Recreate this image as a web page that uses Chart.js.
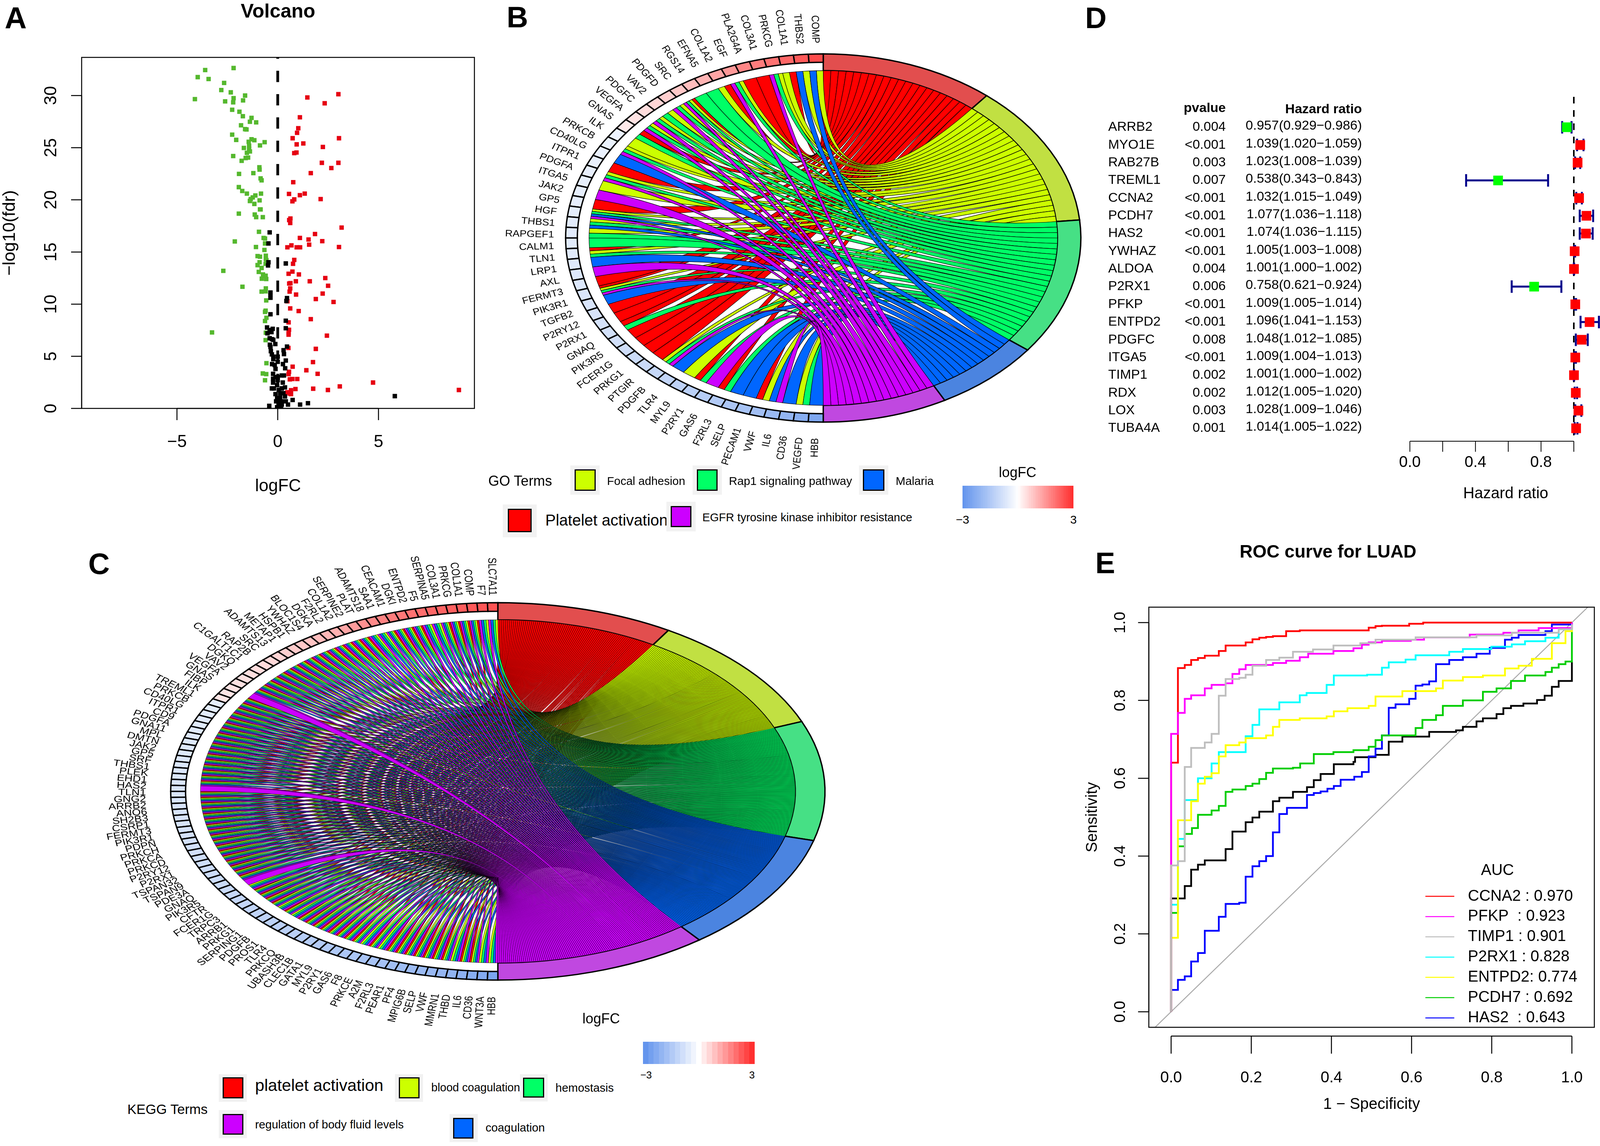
<!DOCTYPE html>
<html>
<head>
<meta charset="utf-8">
<title>Figure</title>
<script src="https://cdn.jsdelivr.net/npm/chart.js@4/dist/chart.umd.js"></script>
<style>
  html, body { margin: 0; background: #fff; }
  #page { position: relative; width: 4100px; height: 2935px; overflow: hidden; background: #fff; font-family: "Liberation Sans", Arial, sans-serif; color: #000; }
  canvas { position: absolute; }
  .t { position: absolute; white-space: pre; line-height: 1; }
  .bg { position: absolute; background: #f2f2f2; }
  .sw { position: absolute; box-sizing: border-box; border: 3px solid #000; }
</style>
</head>
<body>
<div id="page"></div>
<script>
// ============================================================
// Data
// ============================================================

// A: volcano
const upX = [3.01,1.47,2.33,1.10,1.02,.96,.74,3.04,1.27,.94,2.24,.93,.82,2.19,3.01,2.66,1.64,.77,.56,1.34,1.10,2.13,.82,.73,.63,.57,.62,3.17,1.85,1.10,1.53,2.21,1.56,.68,.48,.94,1.11,3.04,.82,.76,.73,.54,1.05,2.36,1.59,.90,.63,.57,2.50,.62,.59,.91,2.23,1.89,.48,2.77,.62,1.04,1.64,.54,.56,.54,.54,2.44,.53,1.89,1.75,.74,1.42,.56,.54,1.98,.97,.73,.60,4.73,3.08,.88,1.76,2.49,.66,.48,.59,.66,8.99];
const upY = [30.13,29.82,29.26,27.92,26.87,26.43,25.91,25.91,25.41,25.32,25.07,24.54,24.48,23.55,23.55,23.05,22.56,21.69,20.57,20.6,20.45,20.07,20.04,19.86,18.21,18.06,17.78,17.34,16.72,16.35,16.2,16.04,15.7,15.64,15.45,15.45,15.45,15.48,14.24,13.87,13.12,12.91,12.85,12.5,12.19,12.19,12.01,11.98,11.76,11.51,11.2,10.92,11.01,10.49,10.27,10.21,9.59,9.34,8.56,8.25,7.54,7.26,7.07,6.98,5.8,5.71,4.44,4.0,3.66,3.51,3.29,3.32,2.82,2.82,2.79,2.48,2.11,1.86,1.89,1.77,1.74,1.55,1.43,1.37,1.77];
const downX = [-2.19,-3.60,-3.97,-3.43,-2.66,-2.80,-2.33,-1.62,-4.11,-2.19,-1.72,-2.61,-2.21,-2.26,-1.90,-1.30,-1.73,-1.38,-1.07,-1.82,-1.62,-1.55,-2.26,-2.06,-.65,-1.30,-1.44,-1.16,-.88,-1.42,-1.68,-1.42,-1.38,-1.53,-2.21,-1.47,-1.59,-1.79,-.91,-.90,-1.21,-1.92,-.85,-.80,-1.93,-1.76,-1.53,-.83,-1.11,-1.24,-1.34,-1.38,-.90,-1.16,-.85,-.88,-1.93,-1.14,-1.07,-.74,-.93,-.70,-.63,-2.13,-.63,-1.08,-.66,-1.0,-.88,-.59,-.59,-.90,-.56,-1.0,-.60,-.80,-.94,-2.70,-.73,-.60,-.79,-.57,-1.75,-.59,-.80,-.60,-.57,-.60,-.63,-.56,-.63,-3.26,-.59,-.60,-.56,-.74,-.57,-.63];
const downY = [32.64,32.45,31.77,31.59,31.21,30.53,30.31,30.0,29.66,29.75,29.54,29.44,29.35,28.64,28.45,27.86,28.02,27.49,27.43,27.15,26.78,26.75,26.25,25.75,25.53,25.81,25.57,25.72,25.22,25.19,24.98,24.88,24.64,24.51,24.2,24.05,24.01,23.74,23.12,22.9,22.56,22.49,22.06,21.87,21.22,20.85,20.6,20.6,20.42,20.23,20.07,19.89,19.95,19.61,19.08,19.08,18.68,18.59,18.34,18.34,16.94,16.35,16.29,16.01,15.82,15.48,15.2,14.61,14.55,14.64,14.33,14.02,14.21,13.74,13.87,13.47,13.09,13.19,12.85,12.72,12.44,12.41,11.67,11.51,11.2,11.23,10.36,9.37,9.25,8.69,8.38,7.29,7.26,6.55,4.34,3.35,3.29,2.7];
const flatX = [-.40,-.46,-.46,-.48,.40,-.36,-.36,-.36,.46,.43,-.36,.40,-.53,.40,-.40,-.25,-.31,-.51,-.40,-.29,-.22,-.39,-.36,-.12,.46,-.34,.29,-.29,.31,-.22,0,-.22,.40,0,-.28,-.15,.26,-.11,.37,-.23,-.11,.20,.31,0,-.23,0,-.23,-.03,.25,-.29,-.19,.20,.36,.05,-.11,.12,.28,-.03,.12,.36,-.08,.05,.2,.4,5.81,.74,1.11,1.5,-.42,.05,.2,.51,-.03,.17];
const flatY = [16.88,15.82,14.02,13.71,13.9,11.11,10.86,10.61,10.58,10.3,9.03,8.41,7.76,7.69,7.51,7.63,7.32,7.2,6.73,6.64,6.58,6.11,5.9,6.17,5.93,5.49,5.58,5.18,5.21,4.96,4.96,4.72,4.59,4.47,4.25,4.16,4.25,3.79,3.85,3.32,3.01,3.16,3.16,3.01,2.85,2.7,2.48,2.23,2.48,1.92,1.92,1.92,2.02,1.77,1.37,1.46,1.46,.99,1.05,1.15,.68,.68,.68,.68,1.18,.81,.37,.5,.25,.31,.37,.37,.12,.12];
const volcanoXTicks = [-5, 0, 5];
const volcanoYTicks = [0, 5, 10, 15, 20, 25, 30];

// B: GO chord
const bGenes = ['COMP','THBS2','COL1A1','PRKCG','COL3A1','PLA2G4A','EGF','COL1A2','EFNA5','RGS14','SRC','PDGFD','VAV2','PDGFC','VEGFA','GNAS','ILK','PRKCB','CD40LG','ITPR1','PDGFA','ITGA5','JAK2','GP5','HGF','THBS1','RAPGEF1','CALM1','TLN1','LRP1','AXL','FERMT3','PIK3R1','TGFB2','P2RY12','P2RX1','GNAQ','PIK3R5','FCER1G','PRKG1','PTGIR','PDGFB','TLR4','MYL9','P2RY1','GAS6','F2RL3','SELP','PECAM1','VWF','IL6','CD36','VEGFD','HBB'];
// one letter per term: R L G B P (in the order of the five term colours)
const bGeneTerms = ['LB','LB','RL','LGP','R','R','LGP','RL','G','G','RLGP','LGP','LG','LGP','LGP','RG','L','LGP','B','R','LGP','L','P','R','LGBP','LGB','LG','G','RLG','B','P','R','RLGP','B','R','R','RG','R','R','R','R','LGP','B','L','RG','P','RG','B','B','RL','BP','B','LG','B'];
const bLogFC = [2.6,2.4,2.2,2.05,1.9,1.75,1.5,1.3,1.1,.95,.8,.7,.6,.5,.4,.3,-.35,-.38,-.4,-.42,-.44,-.46,-.48,-.5,-.52,-.54,-.56,-.58,-.6,-.62,-.65,-.68,-.71,-.74,-.78,-.82,-.86,-.9,-.95,-1,-1.05,-1.1,-1.18,-1.26,-1.34,-1.42,-1.5,-1.6,-1.7,-1.8,-1.95,-2.1,-2.3,-2.5];

// C: KEGG chord
const cGenes = ['SLC7A11','F7','COMP','COL1A1','PRKCG','COL3A1','SERPINA5','F5','ENTPD2','DGKI','CEACAM1','SAA1','ADAMTS18','PLAT','SERPINE2','COL1A2','F2RL2','DGKA','BLOC1S4','YWHAZ','HSPB1','METAP1','ADAMTS13','SRC','RAP2B','C1GALT1C1','DGKQ','VAV2','VEGFA','GNAS','FIBP','ILK','TREML1','PRKCB','CD40LG','ITPR1','CD9','PDGFA','GNA11','MPL','DMTN','JAK2','GP5','SRF','THBS1','PLEK','EHD1','HAS2','TLN1','GNG2','ARRB2','ANO6','SH2B3','CSRP1','FERMT3','PIK3R1','PDPN','PRKCH','PRKCA','PRKCD','P2RY12','P2RX1','TSPAN32','TSPAN9','PDE3A','GNAQ','PIK3R5','CFTR','FCER1G','TRPC3','ARRB1','PRKG1','SERPING1','PDGFB','PROS1','TLR4','PRKCQ','UBASH3B','CLEC1B','GATA1','MYL9','P2RY1','GAS6','F8','PRKCE','A2M','F2RL3','PEAR1','PF4','MPIG6B','SELP','VWF','MMRN1','THBD','IL6','CD36','WNT3A','HBB'];
const cNoPlatelet = ['SLC7A11','F7','SERPINA5','F5','ADAMTS18','PLAT','CFTR','SERPING1','PROS1','F8','A2M','THBD','WNT3A','HBB'];
const cPurpleOnly = ['FIBP','TLN1','PIK3R5'];
const cLogFC = [2.5,2.45,2.4,2.35,2.3,2.25,2.2,2.1,2.05,1.95,1.9,1.8,1.7,1.6,1.45,1.3,1.15,1.05,.95,.85,.8,.75,.7,.62,.55,.52,.5,.47,.44,.42,.4,.38,.36,-.5,-.52,-.55,-.57,-.58,-.6,-.62,-.63,-.65,-.66,-.68,-.69,-.7,-.71,-.72,-.73,-.74,-.75,-.76,-.77,-.78,-.8,-.82,-.84,-.86,-.88,-.9,-.92,-.94,-.96,-.98,-1,-1.03,-1.06,-1.09,-1.12,-1.15,-1.18,-1.21,-1.24,-1.27,-1.3,-1.33,-1.36,-1.39,-1.42,-1.46,-1.5,-1.54,-1.58,-1.62,-1.66,-1.7,-1.75,-1.8,-1.85,-1.9,-1.95,-2,-2.06,-2.12,-2.2,-2.3,-2.4,-2.55,-2.7];

// D: forest plot
const forestGenes = ['ARRB2','MYO1E','RAB27B','TREML1','CCNA2','PCDH7','HAS2','YWHAZ','ALDOA','P2RX1','PFKP','ENTPD2','PDGFC','ITGA5','TIMP1','RDX','LOX','TUBA4A'];
const forestP = ['0.004','<0.001','0.003','0.007','<0.001','<0.001','<0.001','<0.001','0.004','0.006','<0.001','<0.001','0.008','<0.001','0.002','0.002','0.003','0.001'];
const forestHR = [0.957,1.039,1.023,0.538,1.032,1.077,1.074,1.005,1.001,0.758,1.009,1.096,1.048,1.009,1.001,1.012,1.028,1.014];
const forestLow = [0.929,1.020,1.008,0.343,1.015,1.036,1.036,1.003,1.000,0.621,1.005,1.041,1.012,1.004,1.000,1.005,1.009,1.005];
const forestHigh = [0.986,1.059,1.039,0.843,1.049,1.118,1.115,1.008,1.002,0.924,1.014,1.153,1.085,1.013,1.002,1.020,1.046,1.022];
const forestXTicks = [0, 0.2, 0.4, 0.6, 0.8, 1];
const forestXLabelled = [0, 0.4, 0.8];

// E: ROC curves (corners of the steps)
const ccna2X = [0,0,.017,.034,.05,.067,.084,.119,.136,.186,.203,.22,.237,.254,.287,.321,.493,.51,.526,.594,.629,.749,1];
const ccna2Y = [0,.64,.883,.891,.904,.909,.915,.927,.941,.949,.957,.961,.963,.965,.978,.98,.987,.991,.992,.997,1,1,1];
const pfkpX = [0,0,.017,.034,.05,.084,.101,.136,.153,.17,.186,.254,.287,.321,.342,.405,.455,.476,.493,.526,.598,.631,.745,.829,.867,.917,1,1];
const pfkpY = [0,.714,.768,.804,.813,.831,.84,.844,.868,.88,.891,.896,.902,.911,.92,.927,.934,.943,.949,.953,.956,.962,.969,.974,.98,.986,.989,1];
const timp1X = [0,0,.017,.034,.05,.084,.101,.119,.136,.17,.186,.203,.237,.27,.304,.354,.405,.472,.51,.61,.762,.85,.967,1];
const timp1Y = [0,.376,.387,.629,.678,.692,.714,.812,.855,.858,.866,.889,.904,.91,.925,.931,.941,.947,.956,.962,.967,.974,.983,.996];
const p2rx1X = [0,0,.017,.034,.067,.101,.119,.186,.203,.22,.27,.321,.338,.388,.406,.489,.526,.543,.585,.61,.694,.728,.799,.85,.883,.934,.967,1];
const p2rx1Y = [0,.275,.444,.544,.6,.638,.667,.708,.737,.777,.795,.813,.819,.84,.864,.866,.884,.898,.905,.916,.925,.932,.938,.944,.952,.961,.983,.996];
const entpd2X = [0,0,.017,.05,.067,.084,.101,.119,.136,.17,.186,.237,.254,.27,.321,.388,.406,.44,.493,.51,.577,.661,.678,.728,.778,.833,.867,.9,.95,.984,1];
const entpd2Y = [0,.19,.492,.541,.586,.604,.613,.656,.685,.692,.703,.71,.732,.75,.754,.759,.772,.78,.786,.81,.824,.831,.851,.86,.864,.882,.889,.907,.947,.978,.987];
const pcdh7X = [0,0,.017,.034,.052,.067,.101,.119,.136,.153,.186,.203,.22,.237,.254,.304,.322,.356,.405,.455,.493,.51,.526,.61,.627,.661,.678,.728,.778,.812,.848,.883,.934,.95,.967,.984,1,1];
const pcdh7Y = [0,.254,.425,.457,.472,.506,.517,.529,.565,.571,.58,.586,.598,.614,.625,.627,.638,.662,.667,.672,.681,.698,.71,.729,.75,.762,.786,.8,.822,.831,.85,.864,.873,.884,.893,.9,.9,.98];
const unnamedX = [0,0,.034,.05,.067,.084,.136,.153,.186,.203,.22,.254,.27,.304,.339,.356,.373,.406,.455,.459,.51,.543,.577,.644,.711,.728,.762,.778,.812,.829,.848,.879,.913,.932,.95,.967,1,1];
const unnamedY = [0,.291,.323,.365,.378,.389,.418,.463,.487,.499,.514,.541,.55,.565,.577,.595,.611,.636,.642,.654,.66,.694,.707,.719,.723,.732,.746,.754,.765,.78,.786,.792,.801,.812,.835,.85,.86,.9];
const has2X = [0,0,.017,.034,.05,.067,.084,.119,.136,.17,.186,.203,.22,.237,.254,.27,.289,.339,.356,.373,.39,.406,.423,.457,.476,.493,.51,.526,.543,.56,.594,.61,.627,.644,.661,.694,.728,.762,.795,.833,.85,.867,.934,.95,1];
const has2Y = [0,.056,.082,.091,.129,.151,.208,.244,.277,.28,.347,.374,.387,.4,.461,.508,.524,.557,.562,.566,.573,.58,.596,.604,.616,.656,.676,.71,.781,.79,.804,.838,.841,.849,.893,.904,.911,.92,.935,.956,.961,.968,.978,.995,1];
const rocTicks = [0, 0.2, 0.4, 0.6, 0.8, 1];
const rocLegend = ['CCNA2 : 0.970','PFKP  : 0.923','TIMP1 : 0.901','P2RX1 : 0.828','ENTPD2: 0.774','PCDH7 : 0.692','HAS2  : 0.643'];

// ============================================================
// Shared helpers
// ============================================================
const FONT = '"Liberation Sans", Arial, sans-serif';
Chart.defaults.font.family = FONT;
Chart.defaults.color = '#000';
Chart.defaults.animation = false;

const page = document.getElementById('page');
const zip = (xs, ys) => xs.map((x, i) => ({ x, y: ys[i] }));
const minus = v => String(v).replace('-', '\u2212');

function newCanvas(left, top, w, h) {
  const c = document.createElement('canvas');
  c.width = w; c.height = h;
  c.style.left = left + 'px'; c.style.top = top + 'px';
  c.style.width = w + 'px'; c.style.height = h + 'px';
  page.appendChild(c);
  return c;
}

// text anchored on its vertical centre; align: l, c or r
function label(text, x, y, size, align = 'l', bold = false) {
  const d = document.createElement('div');
  d.className = 't';
  d.textContent = text;
  d.style.left = x + 'px'; d.style.top = y + 'px';
  d.style.fontSize = size + 'px';
  if (bold) d.style.fontWeight = 'bold';
  const tx = align === 'c' ? '-50%' : align === 'r' ? '-100%' : '0';
  d.style.transform = `translate(${tx}, -50%)`;
  page.appendChild(d);
}

function swatch(bg, inner, color) {
  const b = document.createElement('div');
  b.className = 'bg';
  b.style.cssText = `left:${bg[0]}px;top:${bg[1]}px;width:${bg[2] - bg[0]}px;height:${bg[3] - bg[1]}px`;
  page.appendChild(b);
  const s = document.createElement('div');
  s.className = 'sw';
  s.style.cssText = `left:${inner[0]}px;top:${inner[1]}px;width:${inner[2] - inner[0]}px;height:${inner[3] - inner[1]}px;background:${color}`;
  page.appendChild(s);
}

// axis fixed to a known size, ticks taken from a named list, no grid
function rAxis(tickValues, size, horizontal, extra) {
  return Object.assign({
    type: 'linear',
    grid: { display: false, drawTicks: false },
    border: { display: false },
    afterBuildTicks: s => { s.ticks = tickValues.map(value => ({ value })); },
    afterFit: s => {
      if (horizontal) s.height = size; else s.width = size;
      // tick padding must not shrink the plot area
      s.paddingLeft = s.paddingRight = s.paddingTop = s.paddingBottom = 0;
    },
  }, extra);
}

// R style axes: frame, axis line between the outer ticks, tick marks outwards
const rAxes = {
  id: 'rAxes',
  afterDraw(chart, args, o) {
    const { ctx, chartArea: a, scales: { x, y } } = chart;
    ctx.save();
    ctx.strokeStyle = '#000';
    ctx.lineWidth = o.width || 2.5;
    if (o.box) ctx.strokeRect(a.left, a.top, a.right - a.left, a.bottom - a.top);
    const xv = x.ticks.map(t => x.getPixelForValue(t.value));
    const y0 = a.bottom + (o.xGap || 0);
    ctx.beginPath();
    ctx.moveTo(xv[0], y0); ctx.lineTo(xv[xv.length - 1], y0);
    xv.forEach(p => { ctx.moveTo(p, y0); ctx.lineTo(p, y0 + o.xTick); });
    if (o.yTick) {
      const yv = y.ticks.map(t => y.getPixelForValue(t.value));
      ctx.moveTo(a.left, yv[0]); ctx.lineTo(a.left, yv[yv.length - 1]);
      yv.forEach(p => { ctx.moveTo(a.left, p); ctx.lineTo(a.left - o.yTick, p); });
    }
    ctx.stroke();
    ctx.restore();
  }
};

// ============================================================
// A: volcano
// ============================================================
new Chart(newCanvas(0, 0, 1230, 1300), {
  type: 'scatter',
  plugins: [rAxes],
  data: {
    datasets: [
      { data: zip(flatX, flatY), pointStyle: 'rect', pointRadius: 8, backgroundColor: '#000', borderWidth: 0 },
      { data: zip(upX, upY), pointStyle: 'rect', pointRadius: 8, backgroundColor: '#e60012', borderWidth: 0 },
      { data: zip(downX, downY), pointStyle: 'rect', pointRadius: 8, backgroundColor: '#55b82e', borderWidth: 0 },
      { data: [{ x: 0, y: 0 }, { x: 0, y: 33.66 }], showLine: true, pointRadius: 0, borderColor: '#000', borderWidth: 7, borderDash: [29, 30.7] },
    ]
  },
  options: {
    responsive: false, devicePixelRatio: 1,
    layout: { autoPadding: false, padding: { right: 15.5 } },
    plugins: {
      legend: { display: false }, tooltip: { enabled: false },
      title: { display: true, text: 'Volcano', fullSize: false, font: { size: 50, weight: 'bold', lineHeight: 1 }, padding: { top: 6, bottom: 91 } },
      rAxes: { box: true, xTick: 30, yTick: 27 },
    },
    scales: {
      x: rAxis(volcanoXTicks, 254, true, {
        min: -9.73, max: 9.76,
        ticks: { font: { size: 44, lineHeight: 1 }, padding: 65, autoSkip: false, maxRotation: 0, callback: minus },
        title: { display: true, text: 'logFC', font: { size: 44, lineHeight: 1 }, padding: { top: 0, bottom: 32 } },
      }),
      y: rAxis(volcanoYTicks, 209, false, {
        min: 0, max: 33.66,
        ticks: { font: { size: 44, lineHeight: 1 }, padding: 53, autoSkip: false, minRotation: 90, maxRotation: 90, crossAlign: 'center', callback: v => String(v) },
        title: { display: true, text: '\u2212log10(fdr)', font: { size: 45, lineHeight: 1 }, padding: { top: 3, bottom: 0 } },
      }),
    }
  }
});

// ============================================================
// B and C: chord diagrams (control point of each ribbon is the centre)
// ============================================================
const TERM_KEYS = 'RLGBP';
const ribbonColors = ['#ff0000', '#ccff00', '#00ff66', '#0066ff', '#cc00ff'];
const ringColors = ['#e24e4e', '#c1e042', '#46e085', '#4b84e0', '#c048e0'];

function fcColor(v) {
  const t = Math.min(Math.abs(v) / 3, 1);
  const end = v >= 0 ? [255, 48, 48] : [100, 149, 237];
  return `rgb(${end.map(c => Math.round(255 + (c - 255) * t)).join(',')})`;
}

const goChord = {
  id: 'goChord',
  beforeDatasetsDraw(chart, args, o) {
    const { ctx, scales: { x, y } } = chart;
    const cx = x.getPixelForValue(0), cy = y.getPixelForValue(0);
    const rx = x.getPixelForValue(1) - cx, ry = cy - y.getPixelForValue(1);
    const rad = Math.PI / 180;
    const pt = (r, th) => [cx + rx * r * Math.sin(th * rad), cy - ry * r * Math.cos(th * rad)];
    const arc = (r, a, b) => ctx.ellipse(cx, cy, rx * r, ry * r, 0, (a - 90) * rad, (b - 90) * rad, b < a);

    const nGene = o.genes.length;
    const geneW = 180 / nGene;
    const counts = TERM_KEYS.split('').map(k => o.terms.filter(s => s.includes(k)).length);
    const total = counts.reduce((a, b) => a + b, 0);
    const unit = 180 / total;

    ctx.save();
    ctx.strokeStyle = '#000';
    ctx.lineJoin = 'miter';

    // outer ring of the terms
    ctx.lineWidth = o.ringLine;
    let start = 0;
    const starts = counts.map((c, i) => {
      const s = start; start += c * unit;
      ctx.beginPath();
      arc(1, s, start); arc(1.1, start, s); ctx.closePath();
      ctx.fillStyle = ringColors[i];
      ctx.fill(); ctx.stroke();
      return s;
    });

    // gene boxes and labels
    o.genes.forEach((g, k) => {
      const a = -k * geneW, b = -(k + 1) * geneW;
      ctx.beginPath();
      arc(1.05, a, b); arc(1.1, b, a); ctx.closePath();
      ctx.fillStyle = fcColor(o.logFC[k]);
      ctx.fill(); ctx.stroke();

      const mid = (k + 0.5) * geneW;
      const [px, py] = [cx - rx * o.labelRx * Math.sin(mid * rad), cy - ry * o.labelRy * Math.cos(mid * rad) + o.labelDy];
      ctx.save();
      ctx.translate(px, py);
      ctx.scale(o.labelStretch, 1);
      ctx.rotate(Math.atan2(Math.cos(mid * rad), Math.sin(mid * rad)));
      ctx.font = `${o.labelSize}px ${FONT}`;
      ctx.fillStyle = '#000';
      ctx.textAlign = 'right';
      ctx.textBaseline = 'middle';
      ctx.fillText(g, 0, 0);
      ctx.restore();
    });

    // ribbons, term by term
    ctx.lineWidth = o.ribbonLine;
    TERM_KEYS.split('').forEach((key, t) => {
      let slot = 0;
      ctx.fillStyle = ribbonColors[t];
      o.terms.forEach((s, k) => {
        const j = s.indexOf(key);
        if (j < 0) return;
        const a1 = -(k + j / s.length) * geneW, a2 = -(k + (j + 1) / s.length) * geneW;
        const b1 = starts[t] + slot * unit, b2 = b1 + unit;
        slot++;
        const pa = pt(1, a1), pb = pt(1, b2);
        ctx.beginPath();
        ctx.moveTo(pa[0], pa[1]);
        arc(1, a1, a2);
        ctx.quadraticCurveTo(cx, cy, pb[0], pb[1]);
        arc(1, b2, b1);
        ctx.quadraticCurveTo(cx, cy, pa[0], pa[1]);
        ctx.closePath();
        ctx.fill(); ctx.stroke();
      });
    });
    ctx.restore();
  }
};

function chordChart(canvas, padding, cfg) {
  const w = 180 / cfg.genes.length;
  const anchors = cfg.genes.map((g, k) => {
    const th = (k + 0.5) * w * Math.PI / 180;
    return { x: -Math.sin(th), y: Math.cos(th) };
  });
  return new Chart(canvas, {
    type: 'scatter',
    plugins: [goChord],
    data: { datasets: [{ data: anchors, pointRadius: 0 }] },
    options: {
      responsive: false, devicePixelRatio: 1,
      layout: { padding },
      plugins: { legend: { display: false }, tooltip: { enabled: false }, goChord: cfg },
      scales: {
        x: { type: 'linear', display: false, min: -1.1, max: 1.1 },
        y: { type: 'linear', display: false, min: -1.1, max: 1.1 },
      }
    }
  });
}

chordChart(newCanvas(1250, 0, 1550, 1230), { left: 198, right: 33, top: 138, bottom: 149 }, {
  genes: bGenes, terms: bGeneTerms, logFC: bLogFC,
  ringLine: 3.5, ribbonLine: 1.2,
  labelSize: 24, labelStretch: 1.12, labelRx: 1.15, labelRy: 1.18, labelDy: 7,
});

const cGeneTerms = cGenes.map(g => cPurpleOnly.includes(g) ? 'P' : cNoPlatelet.includes(g) ? 'LGBP' : 'RLGBP');
chordChart(newCanvas(200, 1400, 1950, 1250), { left: 237, right: 38, top: 143.5, bottom: 140 }, {
  genes: cGenes, terms: cGeneTerms, logFC: cLogFC,
  ringLine: 3.5, ribbonLine: 0.8,
  labelSize: 23, labelStretch: 1.27, labelRx: 1.183, labelRy: 1.17, labelDy: 12,
});

// ============================================================
// D: forest plot
// ============================================================
const forestTable = {
  id: 'forestTable',
  afterDatasetsDraw(chart) {
    const { ctx, scales: { y } } = chart;
    ctx.save();
    ctx.fillStyle = '#000';
    ctx.textBaseline = 'middle';
    const row0 = y.getPixelForValue(1), rowH = y.getPixelForValue(2) - row0;
    ctx.font = `bold 34px ${FONT}`;
    ctx.textAlign = 'right';
    ctx.fillText('pvalue', 338, row0 - rowH * 1.06);
    ctx.fillText('Hazard ratio', 686.6, row0 - rowH * 0.99);
    ctx.font = `34px ${FONT}`;
    forestGenes.forEach((g, i) => {
      const py = y.getPixelForValue(i + 1);
      ctx.textAlign = 'left';
      ctx.fillText(g, 37, py);
      ctx.textAlign = 'right';
      ctx.fillText(forestP[i], 338, py);
      ctx.fillText(`${forestHR[i].toFixed(3)}(${forestLow[i].toFixed(3)}\u2212${forestHigh[i].toFixed(3)})`, 686.6, py - 3);
    });
    ctx.restore();
  },
  beforeDatasetDraw(chart, args) {
    if (args.index !== 0) return;
    const { ctx, scales: { x, y } } = chart;
    ctx.save();
    ctx.strokeStyle = '#00008b';
    ctx.lineWidth = 5;
    forestGenes.forEach((g, i) => {
      const py = y.getPixelForValue(i + 1);
      const lo = x.getPixelForValue(forestLow[i]), hi = x.getPixelForValue(forestHigh[i]);
      ctx.beginPath();
      ctx.moveTo(lo, py); ctx.lineTo(hi, py);
      ctx.moveTo(lo, py - 16); ctx.lineTo(lo, py + 16);
      ctx.moveTo(hi, py - 16); ctx.lineTo(hi, py + 16);
      ctx.stroke();
    });
    ctx.restore();
  }
};

new Chart(newCanvas(2800, 230, 1300, 1070), {
  type: 'scatter',
  plugins: [rAxes, forestTable],
  data: {
    datasets: [
      {
        data: forestHR.map((hr, i) => ({ x: hr, y: i + 1 })), pointStyle: 'rect', pointRadius: 17.5, borderWidth: 0,
        backgroundColor: forestHR.map(hr => hr > 1 ? '#ff0000' : '#00ff00'),
      },
      { data: [{ x: 1, y: -0.72 }, { x: 1, y: 18.73 }], showLine: true, pointRadius: 0, borderColor: '#000', borderWidth: 4, borderDash: [17, 17] },
    ]
  },
  options: {
    responsive: false, devicePixelRatio: 1,
    // markers near the right edge must not pull the plot area in
    layout: { autoPadding: false, padding: { left: 809.3, top: 18 } },
    plugins: {
      legend: { display: false }, tooltip: { enabled: false },
      rAxes: { xTick: 27, width: 2 },
    },
    scales: {
      x: rAxis(forestXTicks, 170, true, {
        min: 0, max: 1.1692,
        ticks: { font: { size: 40, lineHeight: 1 }, padding: 35, autoSkip: false, maxRotation: 0, callback: v => forestXLabelled.includes(v) ? v.toFixed(1) : '' },
        title: { display: true, text: 'Hazard ratio', font: { size: 40, lineHeight: 1 }, padding: { top: 0, bottom: 15 } },
      }),
      y: { type: 'linear', display: false, reverse: true, min: -0.72, max: 18.73 },
    }
  }
});

// ============================================================
// E: ROC curves
// ============================================================
const rocColors = ['#ff0000', '#ff00ff', '#bebebe', '#00ffff', '#ffff00', '#00cd00', '#0000ff'];

const rocKey = {
  id: 'rocKey',
  afterDatasetsDraw(chart) {
    const { ctx } = chart;
    ctx.save();
    ctx.fillStyle = '#000';
    ctx.font = `40px ${FONT}`;
    ctx.textBaseline = 'middle';
    ctx.textAlign = 'center';
    ctx.fillText('AUC', 1115.5, 849.5);
    ctx.textAlign = 'left';
    ctx.lineWidth = 2.5;
    rocLegend.forEach((text, i) => {
      const py = 915.5 + 51.9 * i;
      ctx.strokeStyle = rocColors[i];
      ctx.beginPath(); ctx.moveTo(931, py); ctx.lineTo(1005, py); ctx.stroke();
      ctx.fillText(text, 1039.8, py);
    });
    ctx.restore();
  }
};

const rocCurve = (xs, ys, color, order) => ({
  data: zip(xs, ys), showLine: true, stepped: true, pointRadius: 0,
  borderColor: color, borderWidth: 4.5, borderJoinStyle: 'miter', order,
});

new Chart(newCanvas(2718, 1380, 1382, 1500), {
  type: 'scatter',
  plugins: [rAxes, rocKey],
  data: {
    datasets: [
      rocCurve(ccna2X, ccna2Y, rocColors[0], 2),
      rocCurve(pfkpX, pfkpY, rocColors[1], 1),
      rocCurve(timp1X, timp1Y, rocColors[2], 0),
      rocCurve(p2rx1X, p2rx1Y, rocColors[3], 4),
      rocCurve(entpd2X, entpd2Y, rocColors[4], 3),
      rocCurve(pcdh7X, pcdh7Y, rocColors[5], 5),
      rocCurve(has2X, has2Y, rocColors[6], 6),
      rocCurve(unnamedX, unnamedY, '#000', 7),
      { data: [{ x: -0.06, y: -0.06 }, { x: 1.06, y: 1.06 }], showLine: true, pointRadius: 0, borderColor: '#a9a9a9', borderWidth: 2.5, order: 8 },
    ]
  },
  options: {
    responsive: false, devicePixelRatio: 1,
    layout: { autoPadding: false, padding: { right: 18.5 } },
    plugins: {
      legend: { display: false }, tooltip: { enabled: false },
      title: { display: true, text: 'ROC curve for LUAD', font: { size: 46, weight: 'bold', lineHeight: 1 }, padding: { top: 12, bottom: 117 } },
      rAxes: { box: true, xGap: 22.6, xTick: 45, yTick: 27.5 },
    },
    scales: {
      x: rAxis(rocTicks, 249, true, {
        min: -0.0556, max: 1.056,
        ticks: { font: { size: 40, lineHeight: 1 }, padding: 110, autoSkip: false, maxRotation: 0, callback: v => v.toFixed(1) },
        title: { display: true, text: '1 \u2212 Specificity', font: { size: 40, lineHeight: 1 }, padding: { top: 0, bottom: 31.4 } },
      }),
      y: rAxis(rocTicks, 223, false, {
        min: -0.04, max: 1.0396,
        ticks: { font: { size: 40, lineHeight: 1 }, padding: 44, autoSkip: false, minRotation: 90, maxRotation: 90, crossAlign: 'center', callback: v => v.toFixed(1) },
        title: { display: true, text: 'Sensitivity', font: { size: 40, lineHeight: 1 }, padding: { top: 59, bottom: 0 } },
      }),
    }
  }
});

// ============================================================
// Panel letters and the term legends
// ============================================================
label('A', 12, 46, 78, 'l', true);
label('B', 1297, 44, 76, 'l', true);
label('C', 226, 1444, 76, 'l', true);
label('D', 2778, 46, 76, 'l', true);
label('E', 2804, 1442, 76, 'l', true);

function colourBar(x0, y0, x1, y1, steps) {
  const c = document.createElement('div');
  c.style.position = 'absolute';
  c.style.cssText += `left:${x0}px;top:${y0}px;width:${x1 - x0}px;height:${y1 - y0}px`;
  const cols = [];
  for (let i = 0; i < steps; i++) {
    const v = -3 + 6 * i / (steps - 1);
    const a = 100 * i / steps, b = 100 * (i + 1) / steps;
    cols.push(`${fcColor(v)} ${a}% ${b}%`);
  }
  c.style.background = `linear-gradient(90deg, ${cols.join(',')})`;
  page.appendChild(c);
}

// B legend
label('GO Terms', 1250, 1232, 36);
swatch([1460, 1192, 1535, 1267], [1471, 1202, 1525, 1257], ribbonColors[1]);
label('Focal adhesion', 1554, 1232, 29.5);
swatch([1773, 1192, 1848, 1267], [1784, 1202, 1837, 1257], ribbonColors[2]);
label('Rap1 signaling pathway', 1866, 1232, 29.7);
swatch([2199, 1192, 2274, 1267], [2209, 1202, 2264, 1257], ribbonColors[3]);
label('Malaria', 2293, 1232, 29.7);
swatch([1287, 1292, 1374, 1376], [1300, 1303, 1361, 1363], ribbonColors[0]);
label('Platelet activation', 1396, 1332, 40);
swatch([1706, 1285, 1781, 1361], [1717, 1296, 1770, 1350], ribbonColors[4]);
label('EGFR tyrosine kinase inhibitor resistance', 1798, 1325, 29.3);
label('logFC', 2605, 1210, 36, 'c');
colourBar(2464, 1244, 2748, 1302, 60);
label('\u22123', 2464, 1331, 30, 'c');
label('3', 2748, 1331, 30, 'c');

// C legend
label('KEGG Terms', 326, 2840, 35);
swatch([560, 2751, 632, 2822], [570, 2759, 623, 2813], ribbonColors[0]);
label('platelet activation', 653, 2780, 42.5);
swatch([1011, 2751, 1083, 2822], [1021, 2759, 1074, 2813], ribbonColors[1]);
label('blood coagulation', 1104, 2785, 29);
swatch([1331, 2751, 1402, 2821], [1339, 2760, 1393, 2811], ribbonColors[2]);
label('hemostasis', 1422, 2786, 29.5);
swatch([560, 2843, 632, 2915], [570, 2853, 623, 2906], ribbonColors[4]);
label('regulation of body fluid levels', 653, 2880, 29.5);
swatch([1151, 2853, 1223, 2925], [1160, 2863, 1212, 2916], ribbonColors[3]);
label('coagulation', 1243, 2888, 29.7);
label('logFC', 1539, 2609, 36, 'c');
colourBar(1646, 2668, 1932, 2725, 21);
label('\u22123', 1654, 2753, 26, 'c');
label('3', 1925, 2753, 26, 'c');
</script>
</body>
</html>
